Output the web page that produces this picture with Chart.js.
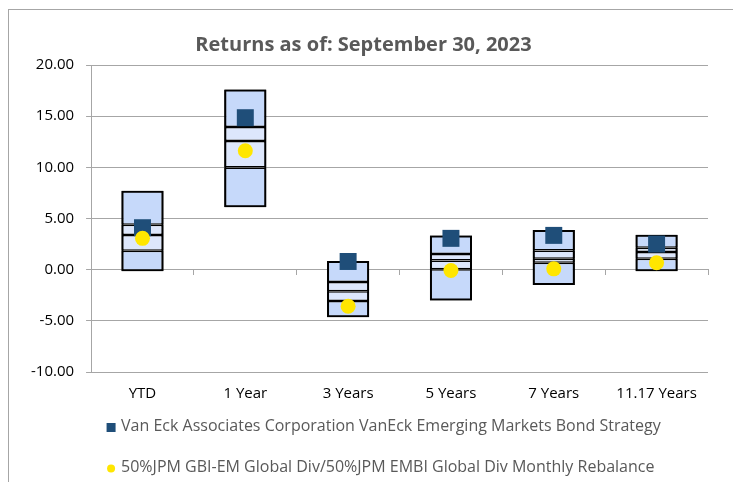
<!DOCTYPE html>
<html>
<head>
<meta charset="utf-8">
<script src="https://cdn.jsdelivr.net/npm/chart.js@4"></script>
<style>
  body { margin: 0; background: #fff; }
  #wrap { position: relative; width: 733px; height: 482px; overflow: hidden; }
  #frame { position: absolute; left: 8px; top: 9px; width: 800px; height: 600px;
           border-left: 1px solid #a6a6a6; border-top: 1px solid #a6a6a6; }
  canvas { position: absolute; left: 0; top: 0; }
</style>
</head>
<body>
<div id="wrap">
  <div id="frame"></div>
  <canvas id="returns" width="733" height="482"></canvas>
</div>
<script>
const categories = ['YTD', '1 Year', '3 Years', '5 Years', '7 Years', '11.17 Years'];

// percentile bands of the peer universe
const pct95 = [7.7, 17.6, 0.85, 3.35, 3.87, 3.41];
const pct75 = [4.4, 13.94, -1.2, 1.52, 1.88, 2.14];
const pct50 = [3.38, 12.57, -2.1, 0.9, 1.06, 1.72];
const pct25 = [1.84, 9.98, -3.06, 0.05, 0.67, 1.06];
const pct05 = [-0.15, 6.1, -4.66, -3.02, -1.49, -0.15];

const fundReturns = [4.1, 14.85, 0.8, 3.06, 3.35, 2.5];
const benchReturns = [3.06, 11.62, -3.58, -0.08, 0.08, 0.67];

const yTicks = [20, 15, 10, 5, 0, -5, -10];

const fundLabel = 'Van Eck Associates Corporation VanEck Emerging Markets Bond Strategy';
const benchLabel = '50%JPM GBI-EM Global Div/50%JPM EMBI Global Div Monthly Rebalance';

const darkFill = '#c6d9fa';
const lightFill = '#dde7fc';

function band(lo, hi) {
    return lo.map((v, i) => [v, hi[i]]);
}

function segment(lo, hi, fill) {
    return {
        type: 'bar',
        data: band(lo, hi),
        backgroundColor: fill,
        borderColor: '#000',
        borderWidth: { top: 1.5, bottom: 1.5, left: 2, right: 2 },
        borderSkipped: false,
        grouped: false,
        barPercentage: 0.41,
        categoryPercentage: 1,
        order: 3
    };
}

// simple legend drawn under the x labels, left aligned
const bottomLegend = {
    id: 'bottomLegend',
    afterDraw(chart) {
        const ctx = chart.ctx;
        const area = chart.chartArea;
        const x0 = area.left + 20;
        const rows = [area.bottom + 54, area.bottom + 95];
        const items = chart.data.datasets
            .filter(ds => ds.legendRow !== undefined)
            .sort((a, b) => a.legendRow - b.legendRow);
        ctx.save();
        ctx.font = '16px "Open Sans"';
        ctx.textBaseline = 'middle';
        items.forEach((ds, i) => {
            const y = rows[i];
            ctx.fillStyle = ds.backgroundColor;
            if (ds.pointStyle === 'rect') {
                ctx.fillRect(x0 - 4.5, y - 3, 9, 9);
            } else {
                ctx.beginPath();
                ctx.arc(x0, y + 1.5, 4, 0, Math.PI * 2);
                ctx.fill();
            }
            ctx.fillStyle = '#595959';
            ctx.fillText(ds.label, x0 + 10, y);
        });
        ctx.restore();
    }
};

const ctx = document.getElementById('returns').getContext('2d');

new Chart(ctx, {
    data: {
        labels: categories,
        datasets: [
            {
                type: 'line',
                label: benchLabel,
                data: benchReturns,
                showLine: false,
                pointStyle: 'circle',
                pointRadius: 7.5,
                pointBorderWidth: 0,
                backgroundColor: '#ffe600',
                borderColor: '#ffe600',
                legendRow: 1,
                order: 0
            },
            {
                type: 'line',
                label: fundLabel,
                data: fundReturns,
                showLine: false,
                pointStyle: 'rect',
                pointRadius: 12,
                pointBorderWidth: 0,
                backgroundColor: '#1f4e79',
                borderColor: '#1f4e79',
                legendRow: 0,
                order: 1
            },
            {
                type: 'bar',
                data: band(pct05, pct95),
                backgroundColor: 'rgba(0,0,0,0)',
                borderColor: '#000',
                borderWidth: 2,
                borderSkipped: false,
                grouped: false,
                barPercentage: 0.41,
                categoryPercentage: 1,
                order: 2
            },
            segment(pct05, pct25, darkFill),
            segment(pct25, pct50, lightFill),
            segment(pct50, pct75, lightFill),
            segment(pct75, pct95, darkFill)
        ]
    },
    options: {
        responsive: false,
        animation: false,
        layout: {
            padding: { left: 19, right: 25, top: 0, bottom: 74 }
        },
        plugins: {
            legend: { display: false },
            tooltip: { enabled: false },
            title: {
                display: true,
                text: 'Returns as of: September 30, 2023',
                color: '#595959',
                font: { family: 'Open Sans', size: 20, weight: 'bold' },
                padding: { top: 33, bottom: 8 }
            }
        },
        scales: {
            x: {
                type: 'category',
                offset: true,
                grid: { display: false },
                border: { display: false },
                ticks: {
                    color: '#000',
                    padding: 5,
                    font: { family: 'Open Sans', size: 15 }
                }
            },
            x2: {
                type: 'category',
                position: { y: 0 },
                offset: true,
                grid: { offset: true, drawOnChartArea: false, tickLength: 5, color: '#a6a6a6' },
                border: { display: true, color: '#a6a6a6', width: 1 },
                ticks: { display: false }
            },
            y: {
                min: -10,
                max: 20,
                afterBuildTicks(axis) {
                    axis.ticks = yTicks.map(v => ({ value: v }));
                },
                grid: { color: '#a6a6a6', tickLength: 5 },
                border: { color: '#a6a6a6' },
                ticks: {
                    color: '#000',
                    padding: 12,
                    font: { family: 'Open Sans', size: 15 },
                    callback: v => v.toFixed(2)
                }
            }
        }
    },
    plugins: [bottomLegend]
});
</script>
</body>
</html>
